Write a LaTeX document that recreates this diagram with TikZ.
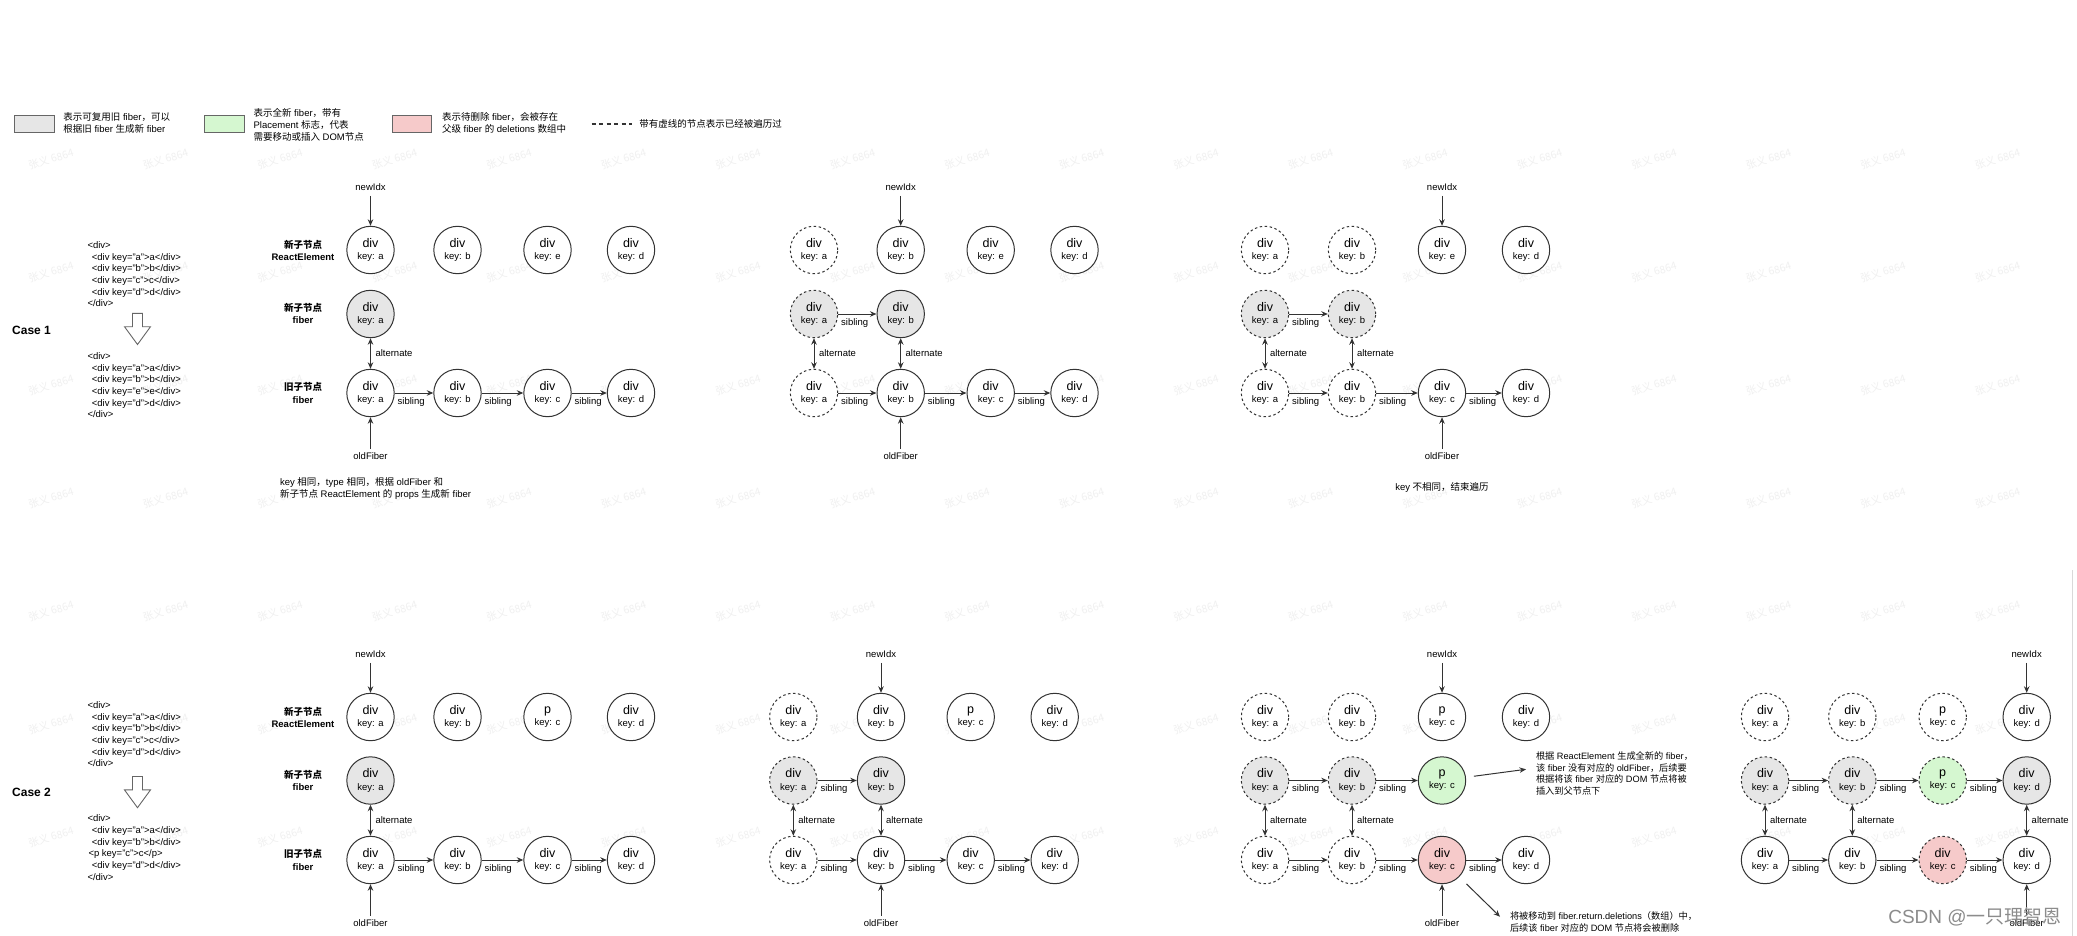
\documentclass[tikz,border=0pt]{standalone}
\usepackage{fontspec}
\setmainfont{Liberation Sans}
\newfontfamily\cjk{Noto Sans CJK SC}
\usetikzlibrary{arrows.meta,calc}
\definecolor{strk}{HTML}{333333}
\definecolor{grayfill}{HTML}{E6E6E6}
\definecolor{greenfill}{HTML}{D5F7D0}
\definecolor{redfill}{HTML}{F6CACA}
\definecolor{wmark}{HTML}{F0F0F0}
\definecolor{boxline}{HTML}{666666}
\tikzset{
  circ/.style={circle, draw=strk, line width=1pt, fill=white, minimum size=47.4pt, inner sep=0pt, align=center, font=\fontsize{9.5}{12.1}\selectfont},
  dsh/.style={dash pattern=on 2.5pt off 2.5pt},
  gry/.style={fill=grayfill},
  grn/.style={fill=greenfill},
  rd/.style={fill=redfill},
  arr/.style={draw=strk, line width=1pt, -{Stealth[length=6.5pt,width=5.5pt]}},
  darr/.style={draw=strk, line width=1pt, {Stealth[length=6.5pt,width=5.5pt]}-{Stealth[length=6.5pt,width=5.5pt]}},
  lbl/.style={font=\fontsize{9.5}{12}\selectfont, inner sep=0pt, outer sep=0pt},
  note/.style={font=\fontsize{9.2}{11.7}\selectfont, inner sep=0pt, outer sep=0pt, align=left},
  rowlbl/.style={font=\bfseries\fontsize{9.5}{12.7}\selectfont, align=center, inner sep=0pt},
  caselbl/.style={font=\bfseries\fontsize{12}{14}\selectfont, inner sep=0pt, anchor=west},
  code/.style={font=\fontsize{9.5}{11.66}\selectfont, align=left, inner sep=0pt, anchor=north west},
  legbox/.style={rectangle, draw=boxline, line width=1pt, minimum width=39.5pt, minimum height=17pt, inner sep=0pt},
  wm/.style={font=\fontsize{10.5}{10.5}\selectfont, text=wmark, rotate=17, inner sep=0pt},
  blockarrow/.style={draw=boxline, line width=0.9pt, fill=white, line join=miter}
}
\newcommand\fib[6]{\node[circ,#4] (#1) at (#2,#3) {{\fontsize{12.5}{12.1}\selectfont #5}\\key: #6};}
\newcommand\sib[2]{\draw[arr] (#1) -- (#2) node[lbl,pos=0,anchor=north west,xshift=3pt,yshift=-4.4pt] {sibling};}
\newcommand\altr[2]{\draw[darr] (#1) -- (#2) node[lbl,midway,anchor=west,xshift=5pt] {alternate};}
\newcommand\newidx[4]{\node[lbl] (#1) at (#2,#3) {newIdx}; \draw[arr,shorten <=5.3pt] (#1) -- (#4);}
\newcommand\oldfib[4]{\node[lbl] (#1) at (#2,#3) {oldFiber}; \draw[arr,shorten <=4pt] (#1) -- (#4);}
\newcommand\rowlabels[4]{%
  \node[rowlbl] (#1-l1) at (303,#2) {{\cjk 新子节点}\\ReactElement};
  \node[rowlbl] (#1-l2) at (303,#3) {{\cjk 新子节点}\\fiber};
  \node[rowlbl] (#1-l3) at (303,#4) {{\cjk 旧子节点}\\fiber};}
\newcommand\barrow[1]{%
  \draw[blockarrow] (132.5,#1) -- (142.5,#1) -- (142.5,#1+13.4) -- (150.5,#1+13.4) -- (137.5,#1+31.2) -- (124.5,#1+13.4) -- (132.5,#1+13.4) -- cycle;}

\begin{document}
\begin{tikzpicture}[x=1pt,y=-1pt]
\useasboundingbox (0,0) rectangle (2077,936);
\fill[white] (0,0) rectangle (2077,936);

% watermark
\foreach \i in {0,...,17}{\foreach \j in {0,...,6}{%
  \node[wm] (wm-\i-\j) at ({51+114.5*\i},{159+113*\j}) {\cjk 张义 6864};}}

\draw[black!15, line width=0.8pt] (2072,570) -- (2072,936);

% legend
\node[legbox,fill=grayfill] (lg1) at (34.3,124) {};
\node[lbl,align=left,anchor=west] (lt1) at (63.4,123.3) {{\cjk 表示可复用旧} fiber{\cjk ，可以}\\{\cjk 根据旧} fiber {\cjk 生成新} fiber};
\node[legbox,fill=greenfill] (lg2) at (224.4,124) {};
\node[lbl,align=left,anchor=west,font=\fontsize{9.5}{11.7}\selectfont] (lt2) at (253.6,125) {{\cjk 表示全新} fiber{\cjk ，带有}\\Placement {\cjk 标志，代表}\\{\cjk 需要移动或插入} DOM{\cjk 节点}};
\node[legbox,fill=redfill] (lg3) at (412,124) {};
\node[lbl,align=left,anchor=west] (lt3) at (442,123.3) {{\cjk 表示待删除} fiber{\cjk ，会被存在}\\{\cjk 父级} fiber {\cjk 的} deletions {\cjk 数组中}};
\coordinate (ld1) at (591.5,124);
\coordinate (ld2) at (631.7,124);
\draw[strk, line width=1.3pt, dash pattern=on 4pt off 3.5pt] (ld1) -- (ld2);
\node[lbl,anchor=west] (lt4) at (639.3,124) {\cjk 带有虚线的节点表示已经被遍历过};

% ===== Case 1 =====
\node[caselbl] (case1) at (12,330) {Case 1};
\node[code] (code1a) at (87.3,241.4) {<div>\\\hspace*{4.4pt}<div key="a">a</div>\\\hspace*{4.4pt}<div key="b">b</div>\\\hspace*{4.4pt}<div key="c">c</div>\\\hspace*{4.4pt}<div key="d">d</div>\\</div>};
\barrow{313.3}
\node[code] (code1b) at (87.3,352.4) {<div>\\\hspace*{4.4pt}<div key="a">a</div>\\\hspace*{4.4pt}<div key="b">b</div>\\\hspace*{4.4pt}<div key="e">e</div>\\\hspace*{4.4pt}<div key="d">d</div>\\</div>};

% panel 1
\rowlabels{A1}{250.5}{313.5}{393}
\fib{A1ra}{370.5}{250}{}{div}{a}
\fib{A1rb}{457.5}{250}{}{div}{b}
\fib{A1rc}{547.5}{250}{}{div}{e}
\fib{A1rd}{631}{250}{}{div}{d}
\fib{A1fa}{370.5}{314}{gry}{div}{a}
\fib{A1oa}{370.5}{393}{}{div}{a}
\fib{A1ob}{457.5}{393}{}{div}{b}
\fib{A1oc}{547.5}{393}{}{div}{c}
\fib{A1od}{631}{393}{}{div}{d}
\sib{A1oa}{A1ob}\sib{A1ob}{A1oc}\sib{A1oc}{A1od}
\altr{A1fa}{A1oa}
\newidx{A1ni}{370.5}{187}{A1ra}
\oldfib{A1of}{370.5}{456}{A1oa}
\node[lbl,align=left,anchor=west] (A1note) at (280,488.3) {key {\cjk 相同，}type {\cjk 相同，根据} oldFiber {\cjk 和}\\{\cjk 新子节点} ReactElement {\cjk 的} props {\cjk 生成新} fiber};

% panel 2
\fib{A2ra}{814}{250}{dsh}{div}{a}
\fib{A2rb}{900.7}{250}{}{div}{b}
\fib{A2rc}{990.7}{250}{}{div}{e}
\fib{A2rd}{1074.5}{250}{}{div}{d}
\fib{A2fa}{814}{314}{gry,dsh}{div}{a}
\fib{A2fb}{900.7}{314}{gry}{div}{b}
\fib{A2oa}{814}{393}{dsh}{div}{a}
\fib{A2ob}{900.7}{393}{}{div}{b}
\fib{A2oc}{990.7}{393}{}{div}{c}
\fib{A2od}{1074.5}{393}{}{div}{d}
\sib{A2fa}{A2fb}
\sib{A2oa}{A2ob}\sib{A2ob}{A2oc}\sib{A2oc}{A2od}
\altr{A2fa}{A2oa}\altr{A2fb}{A2ob}
\newidx{A2ni}{900.7}{187}{A2rb}
\oldfib{A2of}{900.7}{456}{A2ob}

% panel 3
\fib{A3ra}{1265}{250}{dsh}{div}{a}
\fib{A3rb}{1352}{250}{dsh}{div}{b}
\fib{A3rc}{1442}{250}{}{div}{e}
\fib{A3rd}{1526}{250}{}{div}{d}
\fib{A3fa}{1265}{314}{gry,dsh}{div}{a}
\fib{A3fb}{1352}{314}{gry,dsh}{div}{b}
\fib{A3oa}{1265}{393}{dsh}{div}{a}
\fib{A3ob}{1352}{393}{dsh}{div}{b}
\fib{A3oc}{1442}{393}{}{div}{c}
\fib{A3od}{1526}{393}{}{div}{d}
\sib{A3fa}{A3fb}
\sib{A3oa}{A3ob}\sib{A3ob}{A3oc}\sib{A3oc}{A3od}
\altr{A3fa}{A3oa}\altr{A3fb}{A3ob}
\newidx{A3ni}{1442}{187}{A3rc}
\oldfib{A3of}{1442}{456}{A3oc}
\node[lbl] (A3note) at (1442,487) {key {\cjk 不相同，结束遍历}};

% ===== Case 2 =====
\node[caselbl] (case2) at (12,792.3) {Case 2};
\node[code] (code2a) at (87.3,701.4) {<div>\\\hspace*{4.4pt}<div key="a">a</div>\\\hspace*{4.4pt}<div key="b">b</div>\\\hspace*{4.4pt}<div key="c">c</div>\\\hspace*{4.4pt}<div key="d">d</div>\\</div>};
\barrow{776.5}
\node[code] (code2b) at (87.3,814.7) {<div>\\\hspace*{4.4pt}<div key="a">a</div>\\\hspace*{4.4pt}<div key="b">b</div>\\\hspace*{1pt}<p key="c">c</p>\\\hspace*{4.4pt}<div key="d">d</div>\\</div>};

% panel 1
\rowlabels{B1}{717.5}{780.5}{860}
\fib{B1ra}{370.5}{717}{}{div}{a}
\fib{B1rb}{457.5}{717}{}{div}{b}
\fib{B1rc}{547.5}{717}{}{p}{c}
\fib{B1rd}{631}{717}{}{div}{d}
\fib{B1fa}{370.5}{780.5}{gry}{div}{a}
\fib{B1oa}{370.5}{860}{}{div}{a}
\fib{B1ob}{457.5}{860}{}{div}{b}
\fib{B1oc}{547.5}{860}{}{div}{c}
\fib{B1od}{631}{860}{}{div}{d}
\sib{B1oa}{B1ob}\sib{B1ob}{B1oc}\sib{B1oc}{B1od}
\altr{B1fa}{B1oa}
\newidx{B1ni}{370.5}{654}{B1ra}
\oldfib{B1of}{370.5}{923}{B1oa}

% panel 2
\fib{B2ra}{793.3}{717}{dsh}{div}{a}
\fib{B2rb}{881}{717}{}{div}{b}
\fib{B2rc}{970.7}{717}{}{p}{c}
\fib{B2rd}{1054.7}{717}{}{div}{d}
\fib{B2fa}{793.3}{780.5}{gry,dsh}{div}{a}
\fib{B2fb}{881}{780.5}{gry}{div}{b}
\fib{B2oa}{793.3}{860}{dsh}{div}{a}
\fib{B2ob}{881}{860}{}{div}{b}
\fib{B2oc}{970.7}{860}{}{div}{c}
\fib{B2od}{1054.7}{860}{}{div}{d}
\sib{B2fa}{B2fb}
\sib{B2oa}{B2ob}\sib{B2ob}{B2oc}\sib{B2oc}{B2od}
\altr{B2fa}{B2oa}\altr{B2fb}{B2ob}
\newidx{B2ni}{881}{654}{B2rb}
\oldfib{B2of}{881}{923}{B2ob}

% panel 3
\fib{B3ra}{1265}{717}{dsh}{div}{a}
\fib{B3rb}{1352}{717}{dsh}{div}{b}
\fib{B3rc}{1442}{717}{}{p}{c}
\fib{B3rd}{1526}{717}{}{div}{d}
\fib{B3fa}{1265}{780.5}{gry,dsh}{div}{a}
\fib{B3fb}{1352}{780.5}{gry,dsh}{div}{b}
\fib{B3fc}{1442}{780.5}{grn}{p}{c}
\fib{B3oa}{1265}{860}{dsh}{div}{a}
\fib{B3ob}{1352}{860}{dsh}{div}{b}
\fib{B3oc}{1442}{860}{rd}{div}{c}
\fib{B3od}{1526}{860}{}{div}{d}
\sib{B3fa}{B3fb}\sib{B3fb}{B3fc}
\sib{B3oa}{B3ob}\sib{B3ob}{B3oc}\sib{B3oc}{B3od}
\altr{B3fa}{B3oa}\altr{B3fb}{B3ob}
\newidx{B3ni}{1442}{654}{B3rc}
\oldfib{B3of}{1442}{923}{B3oc}
\node[note,anchor=west] (B3note1) at (1536,773.5) {{\cjk 根据} ReactElement {\cjk 生成全新的} fiber{\cjk ，}\\{\cjk 该} fiber {\cjk 没有对应的} oldFiber{\cjk ，后续要}\\{\cjk 根据将该} fiber {\cjk 对应的} DOM {\cjk 节点将被}\\{\cjk 插入到父节点下}};
\coordinate (B3n1tip) at (1526,769.3);
\draw[arr,shorten <=8pt] (B3fc) -- (B3n1tip);
\node[note,anchor=west,font=\fontsize{9.2}{12.6}\selectfont] (B3note2) at (1510,922) {{\cjk 将被移动到} fiber.return.deletions{\cjk （数组）中，}\\{\cjk 后续该} fiber {\cjk 对应的} DOM {\cjk 节点将会被删除}};
\coordinate (B3n2tip) at (1500,916.7);
\draw[arr,shorten <=10pt] (B3oc) -- (B3n2tip);

% panel 4
\fib{B4ra}{1765}{717}{dsh}{div}{a}
\fib{B4rb}{1852.3}{717}{dsh}{div}{b}
\fib{B4rc}{1942.7}{717}{dsh}{p}{c}
\fib{B4rd}{2026.7}{717}{}{div}{d}
\fib{B4fa}{1765}{780.5}{gry,dsh}{div}{a}
\fib{B4fb}{1852.3}{780.5}{gry,dsh}{div}{b}
\fib{B4fc}{1942.7}{780.5}{grn,dsh}{p}{c}
\fib{B4fd}{2026.7}{780.5}{gry}{div}{d}
\fib{B4oa}{1765}{860}{}{div}{a}
\fib{B4ob}{1852.3}{860}{}{div}{b}
\fib{B4oc}{1942.7}{860}{rd,dsh}{div}{c}
\fib{B4od}{2026.7}{860}{}{div}{d}
\sib{B4fa}{B4fb}\sib{B4fb}{B4fc}\sib{B4fc}{B4fd}
\sib{B4oa}{B4ob}\sib{B4ob}{B4oc}\sib{B4oc}{B4od}
\altr{B4fa}{B4oa}\altr{B4fb}{B4ob}\altr{B4fd}{B4od}
\newidx{B4ni}{2026.7}{654}{B4rd}
\oldfib{B4of}{2026.7}{923}{B4od}

% CSDN watermark
\node[font=\fontsize{19}{19}\selectfont, text=black!45, inner sep=0pt] (csdn) at (1975,916.7) {CSDN @{\cjk 一只理智恩}};
\end{tikzpicture}
\end{document}
